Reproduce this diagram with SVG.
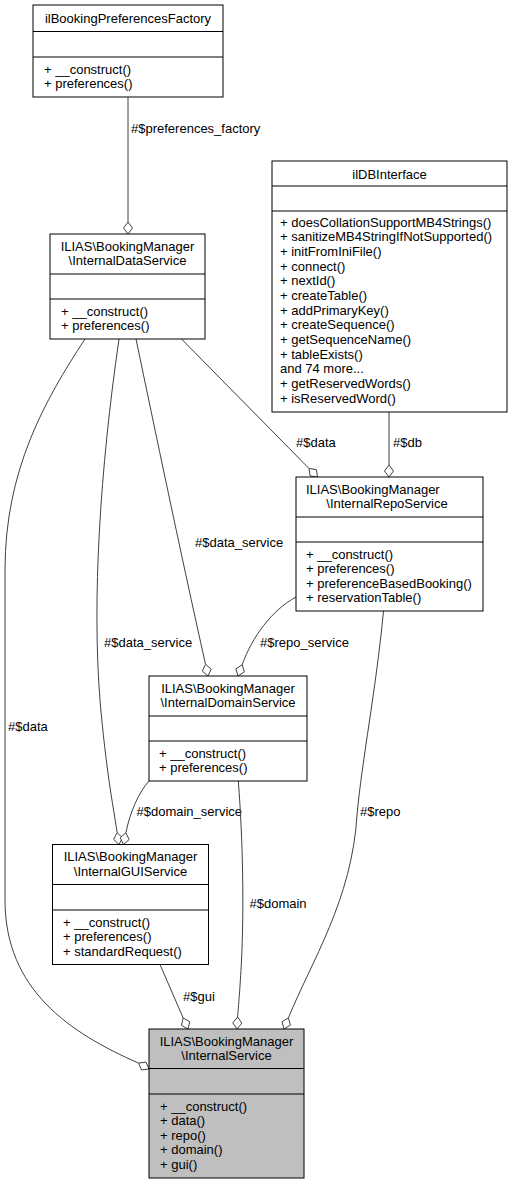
<svg xmlns="http://www.w3.org/2000/svg" width="513" height="1184" viewBox="0 0 513 1184">
<style>
text{font-family:"Liberation Sans",Arial,sans-serif;font-size:13px;fill:#000}
.c{text-anchor:middle}
.box{fill:#fff;stroke:#000;stroke-width:1}
.cur{fill:#bfbfbf}
.sep{stroke:#000;stroke-width:1}
.e{fill:none;stroke:#404040;stroke-width:1}
.d{fill:#fff;stroke:#404040;stroke-width:1}
</style>
<rect width="513" height="1184" fill="#fff"/>
<g id="edges">
<path class="e" d="M128,97 L128,222"/><polygon class="d" points="128,234 132.5,228 128,222 123.5,228"/>
<text x="131" y="133">#$preferences_factory</text>
<path class="e" d="M389,412 L389,465"/><polygon class="d" points="389,477 393.5,471 389,465 384.5,471"/>
<text x="393" y="447">#$db</text>
<path class="e" d="M181.5,339 L309,468.5"/><polygon class="d" points="317.5,477 310.1,475.9 309,468.5 316.4,469.6"/>
<text x="296" y="447">#$data</text>
<path class="e" d="M136,339 C155,430 180,550 205.5,664.3"/><polygon class="d" points="208,676 202.35,671.08 205.5,664.3 211.15,669.22"/>
<text x="195" y="547">#$data_service</text>
<path class="e" d="M119,339 C100,470 92,600 100,700 C106,770 113,805 117.15,832.64"/><polygon class="d" points="119,844.5 113.63,839.26 117.15,832.64 122.53,837.88"/>
<text x="104" y="647">#$data_service</text>
<path class="e" d="M85,339 C45,400 5,470 5,570 L5,900 C5,990 70,1033 138.56,1063.1"/><polygon class="d" points="149,1069 141.58,1069.98 138.56,1063.1 145.98,1062.14"/>
<text x="8" y="731">#$data</text>
<path class="e" d="M296,597 C272,610 252,637 242.2,664.76"/><polygon class="d" points="238,676 235.9,668.8 242.2,664.76 244.3,671.96"/>
<text x="260" y="647">#$repo_service</text>
<path class="e" d="M383.5,611 C376,690 362,760 357,815 C352,900 311,962 288.44,1017.85"/><polygon class="d" points="284,1029 282.04,1021.7 288.44,1017.85 290.4,1025.1"/>
<text x="360" y="816">#$repo</text>
<path class="e" d="M149,781 C139,792 130,812 125.9,832.74"/><polygon class="d" points="123.5,844.5 120.29,837.72 125.9,832.74 129.11,839.52"/>
<text x="136.5" y="816">#$domain_service</text>
<path class="e" d="M238.3,781 C243,840 244,910 241.5,960 C240,990 238.5,1005 237.6,1017"/><polygon class="d" points="237,1029 232.8,1022.8 237.6,1017 241.8,1023.2"/>
<text x="249.5" y="908">#$domain</text>
<path class="e" d="M160,964.5 L183.2,1018"/><polygon class="d" points="188,1029 181.47,1025.3 183.2,1018 189.73,1021.7"/>
<text x="183" y="1000.5">#$gui</text>
</g>
<g id="ilBookingPreferencesFactory">
<rect class="box" x="33" y="5" width="190" height="92"/>
<line class="sep" x1="33" y1="31.5" x2="223" y2="31.5"/><line class="sep" x1="33" y1="57" x2="223" y2="57"/>
<text class="c" x="128" y="23">ilBookingPreferencesFactory</text>
<text x="44" y="73.5">+ __construct()</text>
<text x="44" y="88">+ preferences()</text>
</g>
<g id="InternalDataService">
<rect class="box" x="50" y="234" width="155" height="105"/>
<line class="sep" x1="50" y1="274" x2="205" y2="274"/><line class="sep" x1="50" y1="299" x2="205" y2="299"/>
<text class="c" x="127.5" y="250.5">ILIAS\BookingManager</text>
<text class="c" x="127.5" y="265">\InternalDataService</text>
<text x="61" y="315.5">+ __construct()</text>
<text x="61" y="330">+ preferences()</text>
</g>
<g id="ilDBInterface">
<rect class="box" x="272" y="161" width="235" height="251"/>
<line class="sep" x1="272" y1="186" x2="507" y2="186"/><line class="sep" x1="272" y1="211" x2="507" y2="211"/>
<text class="c" x="389.5" y="178.5">ilDBInterface</text>
<text x="280" y="226.5">+ doesCollationSupportMB4Strings()</text>
<text x="280" y="241.2">+ sanitizeMB4StringIfNotSupported()</text>
<text x="280" y="255.8">+ initFromIniFile()</text>
<text x="280" y="270.5">+ connect()</text>
<text x="280" y="285.2">+ nextId()</text>
<text x="280" y="299.8">+ createTable()</text>
<text x="280" y="314.5">+ addPrimaryKey()</text>
<text x="280" y="329.2">+ createSequence()</text>
<text x="280" y="343.9">+ getSequenceName()</text>
<text x="280" y="358.5">+ tableExists()</text>
<text x="280" y="373.2">and 74 more...</text>
<text x="280" y="387.9">+ getReservedWords()</text>
<text x="280" y="402.5">+ isReservedWord()</text>
</g>
<g id="InternalRepoService">
<rect class="box" x="296" y="477" width="187" height="134"/>
<line class="sep" x1="296" y1="517" x2="483" y2="517"/><line class="sep" x1="296" y1="542" x2="483" y2="542"/>
<text x="306" y="493.5">ILIAS\BookingManager</text>
<text class="c" x="387" y="508">\InternalRepoService</text>
<text x="306" y="558.5">+ __construct()</text>
<text x="306" y="573">+ preferences()</text>
<text x="306" y="587.5">+ preferenceBasedBooking()</text>
<text x="306" y="602">+ reservationTable()</text>
</g>
<g id="InternalDomainService">
<rect class="box" x="149" y="676" width="158" height="105"/>
<line class="sep" x1="149" y1="716" x2="307" y2="716"/><line class="sep" x1="149" y1="741" x2="307" y2="741"/>
<text class="c" x="228" y="692.5">ILIAS\BookingManager</text>
<text class="c" x="228" y="707">\InternalDomainService</text>
<text x="159" y="757.5">+ __construct()</text>
<text x="159" y="772">+ preferences()</text>
</g>
<g id="InternalGUIService">
<rect class="box" x="52.5" y="844.5" width="156" height="120"/>
<line class="sep" x1="52.5" y1="884.5" x2="208.5" y2="884.5"/><line class="sep" x1="52.5" y1="910" x2="208.5" y2="910"/>
<text class="c" x="130.5" y="861">ILIAS\BookingManager</text>
<text class="c" x="130.5" y="875.5">\InternalGUIService</text>
<text x="63" y="926.5">+ __construct()</text>
<text x="63" y="941">+ preferences()</text>
<text x="63" y="955.5">+ standardRequest()</text>
</g>
<g id="InternalService">
<rect class="box cur" x="149" y="1029" width="155" height="149"/>
<line class="sep" x1="149" y1="1068.5" x2="304" y2="1068.5"/><line class="sep" x1="149" y1="1094" x2="304" y2="1094"/>
<text class="c" x="226.5" y="1045.5">ILIAS\BookingManager</text>
<text class="c" x="226.5" y="1060">\InternalService</text>
<text x="160" y="1110.5">+ __construct()</text>
<text x="160" y="1125">+ data()</text>
<text x="160" y="1139.5">+ repo()</text>
<text x="160" y="1154">+ domain()</text>
<text x="160" y="1168.5">+ gui()</text>
</g>
</svg>
